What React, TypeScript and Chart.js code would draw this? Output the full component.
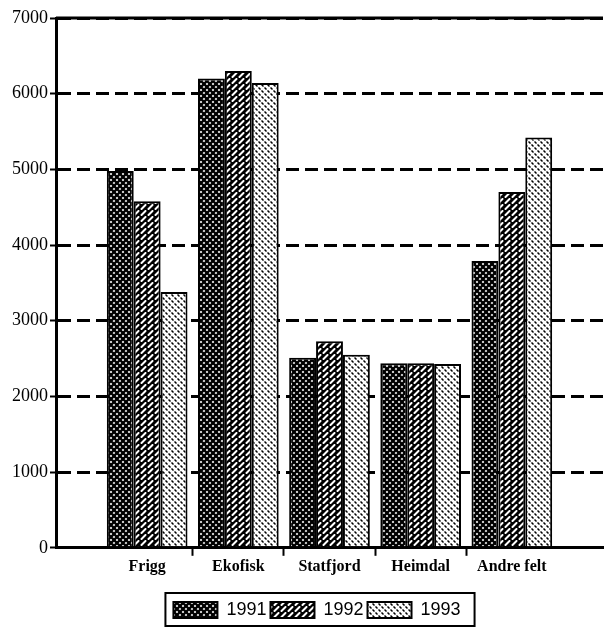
import { useEffect, useRef } from 'react';
import { Chart, registerables } from 'chart.js';

Chart.register(...registerables);

// Categories (blank entries give the half-gap margins at both ends of the axis)
const categories = ['', 'Frigg', 'Ekofisk', 'Statfjord', 'Heimdal', 'Andre felt', ''];
const years = ['1991', '1992', '1993'];
const values1991 = [null, 4980, 6200, 2510, 2440, 3790, null];
const values1992 = [null, 4580, 6300, 2730, 2440, 4700, null];
const values1993 = [null, 3380, 6140, 2550, 2430, 5420, null];
const yMin = 0;
const yMax = 7000;
const yStep = 1000;

function makePattern(kind: number): CanvasPattern | string {
  const c = document.createElement('canvas');
  const g = c.getContext('2d');
  if (!g) return '#888';
  if (kind === 0) {
    c.width = 6; c.height = 6;
    g.fillStyle = '#fff'; g.fillRect(0, 0, 6, 6);
    g.strokeStyle = '#000'; g.lineWidth = 2.4;
    g.beginPath();
    g.moveTo(-1, -1); g.lineTo(7, 7);
    g.moveTo(7, -1); g.lineTo(-1, 7);
    g.stroke();
  } else if (kind === 1) {
    c.width = 7; c.height = 6;
    g.fillStyle = '#000'; g.fillRect(0, 0, 7, 6);
    g.strokeStyle = '#fff'; g.lineWidth = 2;
    g.lineCap = 'round';
    g.beginPath();
    g.moveTo(1.5, 5); g.lineTo(5.5, 1);
    g.stroke();
  } else {
    c.width = 6; c.height = 6;
    g.fillStyle = '#fff'; g.fillRect(0, 0, 6, 6);
    g.strokeStyle = '#000'; g.lineWidth = 1.5;
    g.beginPath();
    g.moveTo(0.5, 3.5); g.lineTo(2.5, 5.5);
    g.moveTo(3.5, 0.5); g.lineTo(5.5, 2.5);
    g.stroke();
  }
  return g.createPattern(c, 'repeat') || '#888';
}

const frameLines = {
  id: 'frameLines',
  afterLayout(chart: any) {
    const lg = chart.legend;
    if (lg) { lg.left += 10; lg.right += 10; lg.top += 2; lg.bottom += 2; }
  },
  afterDraw(chart: any) {
    const { ctx, chartArea, scales } = chart;
    ctx.save();
    ctx.strokeStyle = '#000';
    ctx.lineWidth = 3;
    const yTop = scales.y.getPixelForValue(yMax);
    ctx.beginPath();
    ctx.moveTo(chartArea.left, yTop);
    ctx.lineTo(chartArea.right, yTop);
    ctx.stroke();
    const lg = chart.legend;
    if (lg && lg.legendHitBoxes && lg.legendHitBoxes.length) {
      const hb = lg.legendHitBoxes;
      const l = hb[0].left;
      const last = hb[hb.length - 1];
      const r = last.left + last.width;
      const t = hb[0].top;
      const h = hb[0].height;
      ctx.lineWidth = 2;
      ctx.strokeRect(l - 8, t - 8, r - l + 22, h + 15);
    }
    ctx.restore();
  },
};

export default function App() {
  const ref = useRef<HTMLCanvasElement | null>(null);
  useEffect(() => {
    if (!ref.current) return;
    const pats = [makePattern(0), makePattern(1), makePattern(2)];
    const series = [values1991, values1992, values1993];
    const chart = new Chart(ref.current, {
      type: 'bar',
      data: {
        labels: categories,
        datasets: years.map((y, i) => ({
          label: y,
          data: series[i],
          backgroundColor: pats[i],
          borderColor: '#000',
          borderWidth: 2,
          categoryPercentage: 0.885,
          barPercentage: 1,
        })),
      },
      options: {
        animation: false,
        responsive: false,
        layout: { padding: { left: 10, right: 0, top: 18, bottom: 0 } },
        plugins: {
          title: { display: false },
          tooltip: { enabled: false },
          legend: {
            position: 'bottom',
            labels: {
              boxWidth: 44,
              boxHeight: 16,
              padding: 4,
              color: '#000',
              font: { family: 'Liberation Sans', size: 18 },
            },
          },
        },
        scales: {
          x: {
            offset: false,
            grid: {
              display: true,
              offset: true,
              drawOnChartArea: false,
              drawTicks: true,
              tickLength: 8,
              tickWidth: 2,
              color: (c: any) => (c.index >= 2 && c.index <= 5 ? '#000' : 'rgba(0,0,0,0)'),
            },
            border: { display: true, color: '#000', width: 3 },
            ticks: {
              autoSkip: false,
              maxRotation: 0,
              padding: 1,
              color: '#000',
              font: { family: 'Liberation Serif', size: 16, weight: 'bold' },
            },
            afterFit: (s: any) => { s.height += 18; },
          },
          y: {
            min: yMin,
            max: yMax,
            ticks: {
              stepSize: yStep,
              padding: 2,
              color: '#000',
              font: { family: 'Liberation Serif', size: 18 },
              callback: (v: any) => String(v),
            },
            grid: {
              color: '#000',
              lineWidth: 3,
              drawTicks: true,
              tickLength: 6,
              tickWidth: 2,
              tickColor: '#000',
            },
            border: { display: true, color: '#000', width: 3, dash: [13, 6] },
          },
        },
      },
      plugins: [frameLines],
    });
    return () => chart.destroy();
  }, []);
  return (
    <div style={{ position: 'absolute', left: 0, top: 0, width: 604, height: 627, background: '#fff' }}>
      <canvas ref={ref} width={604} height={627} style={{ display: 'block' }} />
    </div>
  );
}
